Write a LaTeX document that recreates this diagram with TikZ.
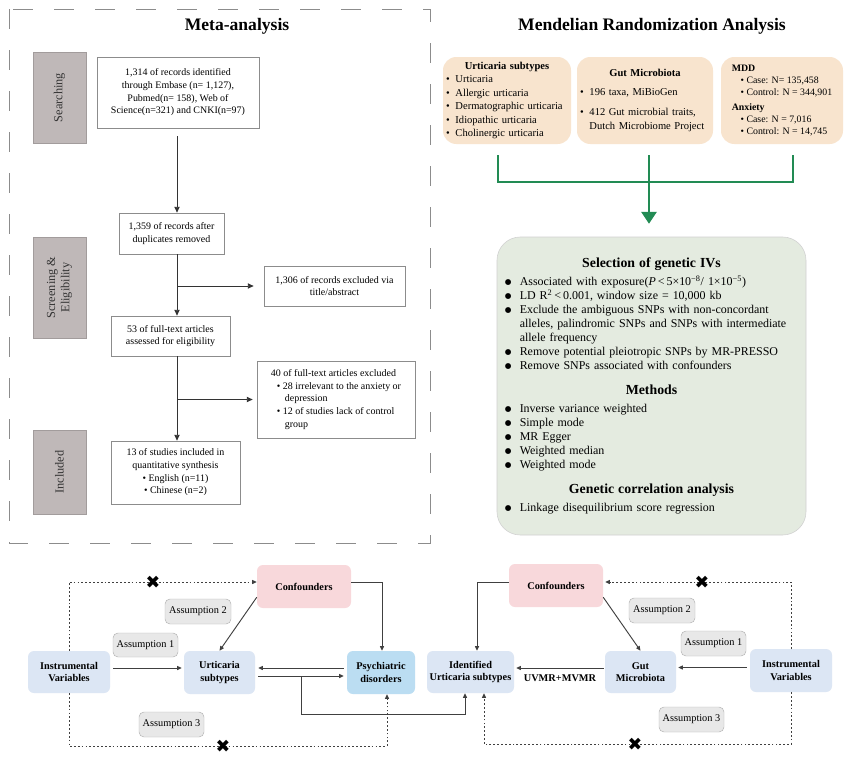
\documentclass[tikz,border=0pt]{standalone}
\usepackage{fontspec}
\setmainfont{Liberation Serif}
\newfontfamily\symfont{DejaVu Sans}
\usetikzlibrary{arrows.meta,calc,positioning}

\definecolor{stagegray}{HTML}{BFB8B8}
\definecolor{framegray}{HTML}{8C8C8C}
\definecolor{peach}{HTML}{F8E4CE}
\definecolor{mrgreen}{RGB}{34,139,84}
\definecolor{sagebg}{HTML}{E4EBE0}
\definecolor{ivblue}{HTML}{DCE6F4}
\definecolor{psyblue}{HTML}{BBDDF2}
\definecolor{confpink}{HTML}{F8D8DB}
\definecolor{asmgray}{HTML}{E8E8E8}

\newlength\bind
\setlength\bind{1em}
\newcommand{\bmark}{\textbullet}
\newcommand{\bitem}[1]{\par\noindent\hangindent=\bind\hangafter=1\makebox[\bind][l]{\bmark}#1}
\newcommand{\sechead}[1]{\par\vspace{9pt}{\centering\fontsize{11.8}{13}\selectfont\textbf{#1}\par}\vspace{3pt}}

\begin{document}
\begin{tikzpicture}[x=0.03cm, y=-0.03cm,
    sz/.style 2 args={minimum width=#1*0.03cm, minimum height=#2*0.03cm},
    stage/.style={fill=stagegray, draw=stagegray!85!black, line width=0.4pt, inner sep=0pt,
        rotate=90, align=center, text=black!80, font=\fontsize{10.5}{12}\selectfont},
    prisma/.style={draw=framegray, line width=0.6pt, fill=white, inner sep=1pt,
        align=center, font=\fontsize{8.5}{10.8}\selectfont},
    mrbox/.style={fill=peach, rounded corners=0.4cm, inner sep=0pt, align=left,
        font=\fontsize{9}{11.5}\selectfont},
    sage/.style={fill=sagebg, draw=black!18, line width=0.5pt, rounded corners=0.7cm,
        inner sep=0pt, align=left, font=\fontsize{10.2}{11.9}\selectfont},
    var/.style={fill=ivblue, rounded corners=0.18cm, inner sep=0pt, align=center,
        font=\bfseries\fontsize{8.8}{10.8}\selectfont},
    conf/.style={var, fill=confpink},
    asm/.style={fill=asmgray, draw=black!30, line width=0.4pt, rounded corners=0.15cm,
        inner sep=0pt, font=\fontsize{8.8}{10}\selectfont},
    flow/.style={-{Triangle[length=5pt,width=4.5pt]}, line width=0.8pt, draw=black!80},
    link/.style={-{Triangle[length=4pt,width=3.5pt]}, line width=0.8pt, draw=black!75},
    weak/.style={link, dash pattern=on 1.5pt off 1.8pt},
    grn/.style={draw=mrgreen, line width=1.3pt},
    cross/.style={inner sep=0pt, font=\symfont\fontsize{15}{15}\selectfont}]

    \useasboundingbox[fill=white] (0,0) rectangle (860,780);

    %meta-analysis frame
    \draw [framegray, line width=0.8pt, dash pattern=on 17pt off 18pt] (9,9) rectangle (430,543);
    \node[font=\bfseries\fontsize{15}{17}\selectfont] (metatitle) at (237,26) {Meta-analysis};

    %stages
    \node[stage, sz={91}{53}] (searching) at (59.5,97.5) {Searching};
    \node[stage, sz={101}{53}] (screening) at (59.5,287.5) {Screening \&\\Eligibility};
    \node[stage, sz={84}{53}] (included) at (59.5,472) {Included};

    %prisma boxes
    \node[prisma, sz={162}{71}] (records) at (178,92.5)
        {1,314 of records identified\\ through Embase (n= 1,127),\\ Pubmed(n= 158), Web of\\ Science(n=321) and CNKI(n=97)};
    \node[prisma, sz={105}{41}] (dupl) at (171.5,233.5)
        {1,359 of records after\\ duplicates removed};
    \node[prisma, sz={141}{40}] (excla) at (334.5,286)
        {1,306 of records excluded via\\ title/abstract};
    \node[prisma, sz={119}{40}] (fulltext) at (170.5,336)
        {53 of full-text articles\\ assessed for eligibility};
    \node[prisma, sz={158}{77}, align=left] (exclb) at (336,399.5)
        {40 of full-text articles excluded\\
         \hspace*{0.6em}\textbullet\ 28 irrelevant to the anxiety or\\
         \hspace*{1.4em}depression\\
         \hspace*{0.6em}\textbullet\ 12 of studies lack of control\\
         \hspace*{1.4em}group};
    \node[prisma, sz={129}{63}] (studies) at (175.5,472.5)
        {13 of studies included in\\ quantitative synthesis\\
         \textbullet\ English (n=11)\\ \textbullet\ Chinese (n=2)};

    %prisma arrows
    \coordinate (spine) at (177,0);
    \draw [flow, shorten <=8*0.03cm] (records.south -| spine) -- (dupl.north -| spine);
    \draw [flow] (dupl.south -| spine) -- (fulltext.north -| spine);
    \draw [flow, shorten >=10*0.03cm] (spine |- excla.west) -- (excla.west);
    \draw [flow] (fulltext.south -| spine) -- (studies.north -| spine);
    \draw [flow, shorten >=4*0.03cm] (spine |- exclb.west) -- (exclb.west);

    %mendelian randomization
    \node[font=\bfseries\fontsize{15}{17}\selectfont] (mrtitle) at (652,26) {Mendelian Randomization Analysis};

    \node[mrbox, sz={128}{87}, text width=3.66cm] (urt) at (507,100.5) {%
        \setlength\bind{0.9em}%
        {\centering\textbf{Urticaria subtypes}\par}
        \bitem{Urticaria}
        \bitem{Allergic urticaria}
        \bitem{Dermatographic urticaria}
        \bitem{Idiopathic urticaria}
        \bitem{Cholinergic urticaria}\par};
    \node[mrbox, sz={136}{87}, text width=3.9cm] (gut) at (645,100.5) {%
        \setlength\bind{0.9em}%
        {\centering\textbf{Gut Microbiota}\par}
        \vspace{4pt}
        \bitem{196 taxa, MiBioGen}
        \par\vspace{6pt}
        \bitem{412 Gut microbial traits,\newline Dutch Microbiome Project}\par};
    \node[mrbox, sz={122}{87}, font=\fontsize{8.4}{10.3}\selectfont] (psy) at (782,100.5) {%
        \textbf{MDD}\\
        \hspace*{0.9em}\textbullet\ Case: N= 135,458\\
        \hspace*{0.9em}\textbullet\ Control: N = 344,901\\[3pt]
        \textbf{Anxiety}\\
        \hspace*{0.9em}\textbullet\ Case: N = 7,016\\
        \hspace*{0.9em}\textbullet\ Control: N = 14,745};

    \node[sage, sz={309}{298}, text width=8.8cm] (sel) at (651.5,386) {%
        \setlength\bind{1.25em}%
        \renewcommand{\bmark}{\raisebox{0.1ex}{\symfont\fontsize{6.5}{6.5}\selectfont ●}}%
        {\centering\fontsize{11.8}{13}\selectfont\textbf{Selection of genetic IVs}\par}
        \vspace{3pt}
        \bitem{Associated with exposure(\textit{P}\,<\,5×10\textsuperscript{−8}/ 1×10\textsuperscript{−5})}
        \bitem{LD R\textsuperscript{2}\,<\,0.001, window size = 10,000 kb}
        \bitem{Exclude the ambiguous SNPs with non-concordant\newline alleles, palindromic SNPs and SNPs with intermediate\newline allele frequency}
        \bitem{Remove potential pleiotropic SNPs by MR-PRESSO}
        \bitem{Remove SNPs associated with confounders}
        \sechead{Methods}
        \bitem{Inverse variance weighted}
        \bitem{Simple mode}
        \bitem{MR Egger}
        \bitem{Weighted median}
        \bitem{Weighted mode}
        \sechead{Genetic correlation analysis}
        \bitem{Linkage disequilibrium score regression}\par};

    %green connectors
    \coordinate (jn) at ($(gut.south)+(4,38)$);
    \draw [grn] ($(urt.south)+(-9,11)$) -- ($(urt.south)+(-9,38)$) -- ($(psy.south)+(11,38)$) -- ($(psy.south)+(11,11)$);
    \draw [grn] ($(gut.south)+(4,11)$) -- (jn);
    \draw [grn, -{Triangle[length=10pt,width=13pt]}, shorten >=13*0.03cm] (jn) -- (jn |- sel.north);

    %left causal diagram
    \node[var, sz={82}{42}] (ivL) at (69,672) {Instrumental\\Variables};
    \node[var, sz={71}{43}] (urtL) at (219.5,672.5) {Urticaria\\subtypes};
    \node[conf, sz={94}{43}] (confL) at (304,586.5) {Confounders};
    \node[var, sz={68}{43}, fill=psyblue] (psyL) at (381,672.5) {Psychiatric\\disorders};
    \node[asm, sz={66}{25}] (asmLb) at (198,611.5) {Assumption 2};
    \node[asm, sz={65}{24}] (asmLa) at (145.5,645) {Assumption 1};
    \node[asm, sz={65}{25}] (asmLc) at (171.5,724.5) {Assumption 3};

    %right causal diagram
    \node[var, sz={87}{42}] (idR) at (470.5,672) {Identified\\Urticaria subtypes};
    \node[conf, sz={94}{43}] (confR) at (556,585.5) {Confounders};
    \node[var, sz={71}{42}] (gutR) at (640.5,672) {Gut\\Microbiota};
    \node[var, sz={82}{43}] (ivR) at (791,670.5) {Instrumental\\Variables};
    \node[asm, sz={66}{25}] (asmRb) at (662,610.5) {Assumption 2};
    \node[asm, sz={65}{25}] (asmRa) at (713.5,643.5) {Assumption 1};
    \node[asm, sz={65}{25}] (asmRc) at (691.5,719.5) {Assumption 3};

    %left arrows
    \draw [link] ($(ivL.east)+(3,-4)$) -- ($(urtL.west)+(-2,-4.5)$);
    \draw [link] ($(confL.south west)+(0,-11)$) -- (urtL.north);
    \draw [link] ($(confL.east)+(0,-4.5)$) -| ($(psyL.north)+(1,0)$);
    \draw [link] ($(psyL.west)+(-3,-4.5)$) -- ($(urtL.east)+(3,-4.5)$);
    \draw [link] ($(urtL.east)+(3,3.5)$) -- ($(psyL.west)+(-3,3.5)$);
    \coordinate (split) at ($(urtL.east)!0.5!(psyL.west)+(0,3.5)$);
    \draw [link] (split) |- ($(idR.south)+(-5.5,21)$) -- ($(idR.south)+(-5.5,0)$);
    \draw [weak] (ivL.north) |- ($(confL.west)+(0,-4.5)$);
    \draw [weak] (ivL.south) -- ++(0,53) -| ($(psyL.south)+(6,0)$);
    \node[cross] (crossLa) at (153,582) {✖};
    \node[cross] (crossLb) at (223,746) {✖};

    %right arrows
    \draw [link] ($(confR.west)+(0,-3.5)$) -| ($(idR.north)+(6.5,0)$);
    \draw [link] ($(confR.south east)+(0,-10)$) -- (gutR.north);
    \draw [link] ($(gutR.west)+(-1,-4)$) -- node[below=2pt, font=\bfseries\fontsize{8.8}{10}\selectfont] {UVMR+MVMR} ($(idR.east)+(2,-4)$);
    \coordinate (ivRin) at ($(ivR.west)+(-3,-3)$);
    \draw [link] (ivRin) -- ($(ivRin -| gutR.east)+(2,0)$);
    \draw [weak] (ivR.north) |- ($(confR.east)+(2,-3.5)$);
    \draw [weak] (ivR.south) -- ++(0,52) -| ($(idR.south)+(13.5,0)$);
    \node[cross] (crossRa) at (702,582) {✖};
    \node[cross] (crossRb) at (635,744) {✖};

\end{tikzpicture}
\end{document}
